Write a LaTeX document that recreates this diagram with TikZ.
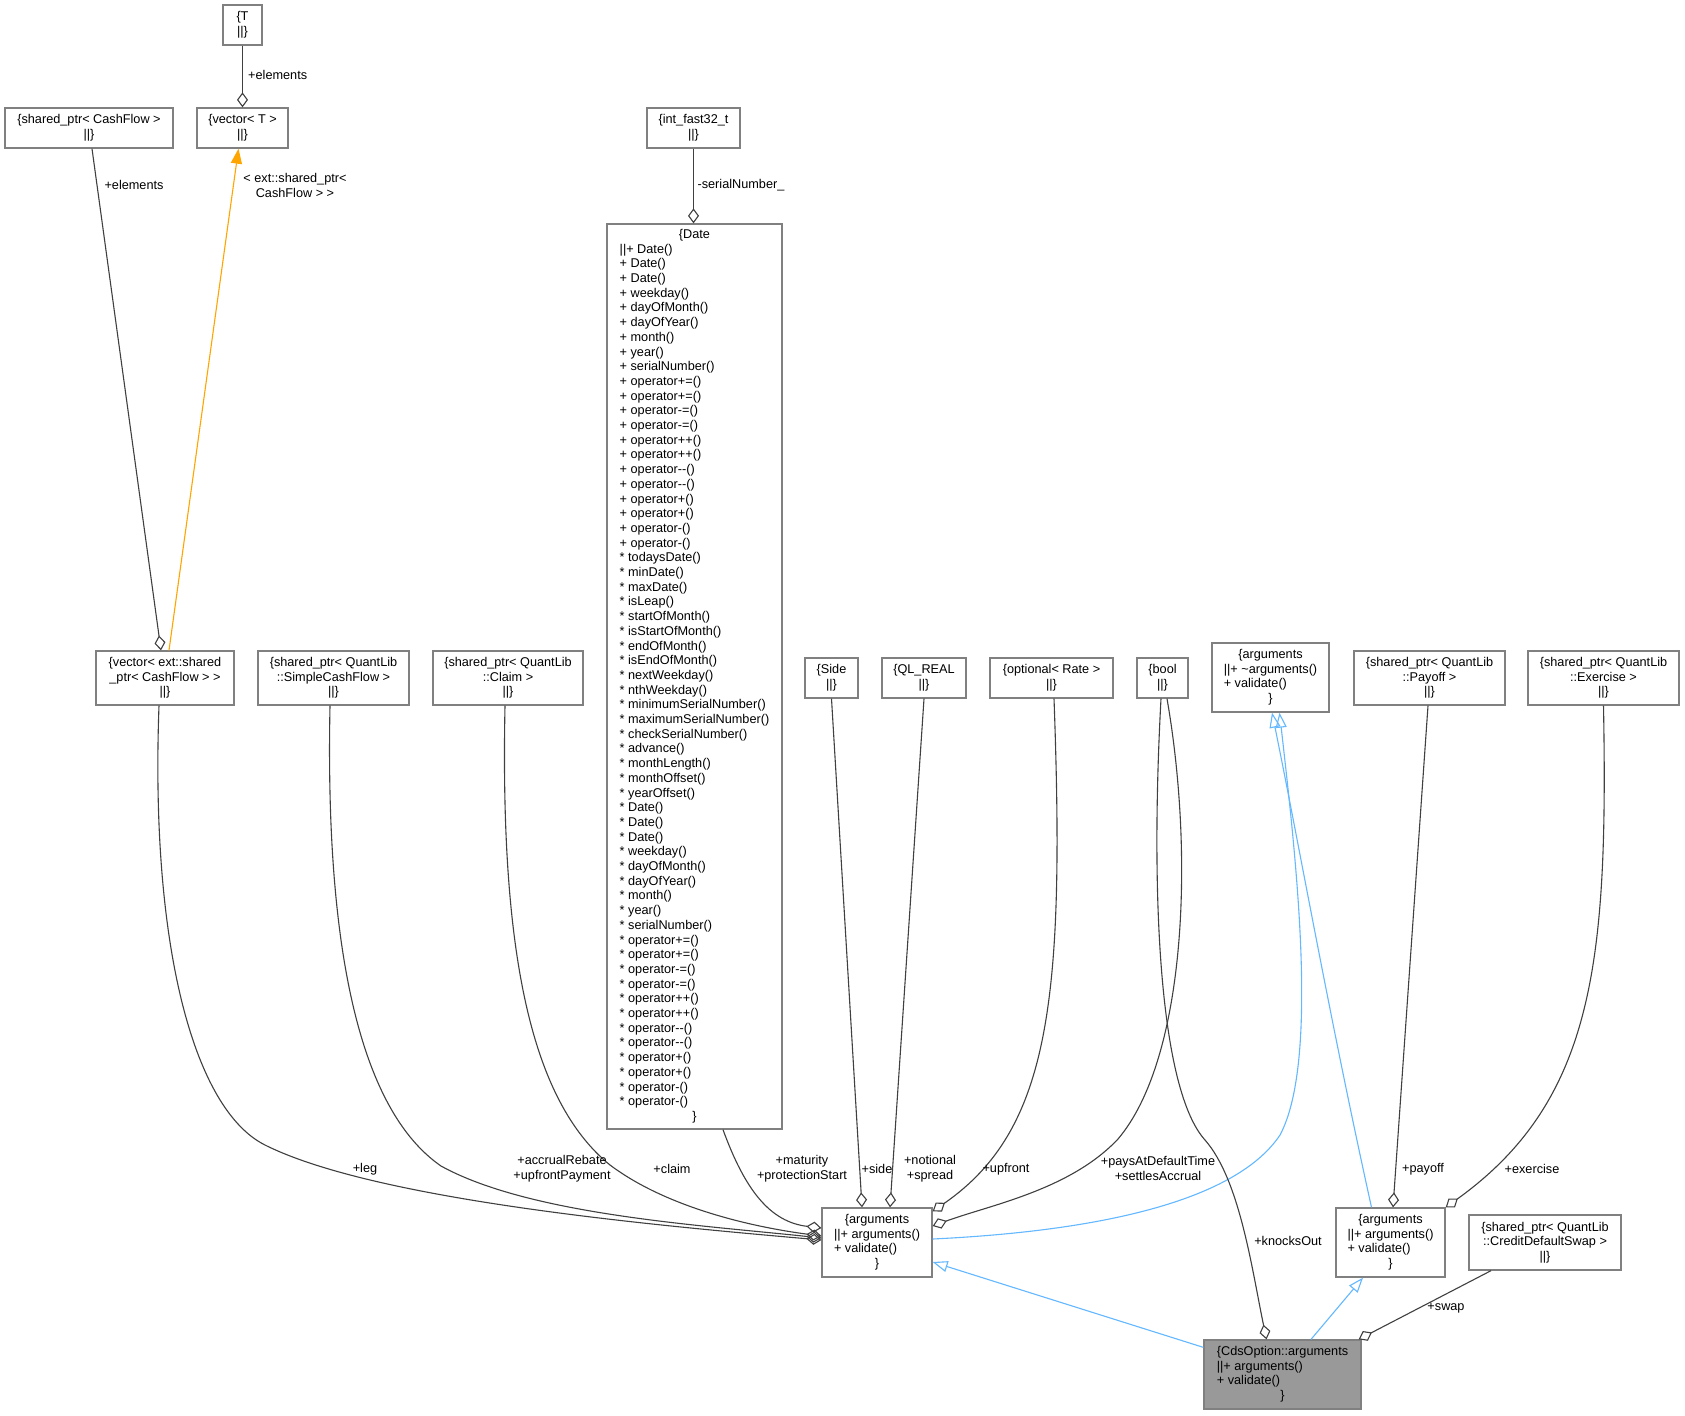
\documentclass[tikz,border=0pt]{standalone}
\usepackage{fontspec}
\setmainfont{Liberation Sans}[Ligatures=TeXOff]
\usetikzlibrary{arrows.meta,calc}
\definecolor{edgegray}{HTML}{404040}
\definecolor{boxgray}{HTML}{808080}
\definecolor{inhblue}{HTML}{63B8FF}
\definecolor{tmplorange}{HTML}{FFA500}
\definecolor{cdsfill}{HTML}{999999}
\newcommand\rectext[1]{\begin{tabular}{@{}l@{}}#1\end{tabular}}
\newcommand\ctrline[1]{\multicolumn{1}{@{}c@{}}{#1}}
\newcommand\st{{*}}
\begin{document}
\begin{tikzpicture}[x=1pt,y=-1pt,
  font=\fontsize{12.7}{14.7}\selectfont,
  box/.style={draw=boxgray, line width=1.3pt, fill=white, inner sep=0pt, align=center, text=black},
  mem/.style={draw=edgegray, line width=1.1pt, -{Diamond[open,length=15pt,width=11pt]}},
  inh/.style={draw=inhblue, line width=1.1pt, -{Triangle[open,length=15pt,width=11pt]}},
  tmpl/.style={draw=tmplorange, fill=none, line width=1.1pt, -{Triangle[length=15pt,width=11pt,fill=tmplorange]}},
  lbl/.style={inner sep=0pt, align=center, text=black}]
\fill[white] (0,0) rectangle (1685,1415);
\useasboundingbox (0,0) rectangle (1685,1415);

% boxes
\node[box, minimum width=39pt, minimum height=40pt] (T) at (242.5,25) {\{T\\||\}};
\node[box, minimum width=91pt, minimum height=40pt] (vecT) at (242.5,128) {\{vector< T >\\||\}};
\node[box, minimum width=168pt, minimum height=40pt] (spCF) at (89,128) {\{shared\_ptr< CashFlow >\\||\}};
\node[box, minimum width=93pt, minimum height=40pt] (intf) at (693.5,128) {\{int\_fast32\_t\\||\}};
\node[box, minimum width=138pt, minimum height=54pt] (vecSP) at (165,678) {\{vector< ext::shared\\\_ptr< CashFlow > >\\||\}};
\node[box, minimum width=151pt, minimum height=54pt] (spSCF) at (333.5,678) {\{shared\_ptr< QuantLib\\::SimpleCashFlow >\\||\}};
\node[box, minimum width=150pt, minimum height=54pt] (spClaim) at (508,678) {\{shared\_ptr< QuantLib\\::Claim >\\||\}};
\node[box, minimum width=175pt, minimum height=905pt] (Date) at (694.5,676.5) {\rectext{\ctrline{\{Date}\\
||+ Date()\\ + Date()\\ + Date()\\ + weekday()\\ + dayOfMonth()\\ + dayOfYear()\\ + month()\\ + year()\\ + serialNumber()\\
+ operator+=()\\ + operator+=()\\ + operator-=()\\ + operator-=()\\ + operator++()\\ + operator++()\\ + operator--()\\ + operator--()\\
+ operator+()\\ + operator+()\\ + operator-()\\ + operator-()\\
\st{} todaysDate()\\ \st{} minDate()\\ \st{} maxDate()\\ \st{} isLeap()\\ \st{} startOfMonth()\\ \st{} isStartOfMonth()\\ \st{} endOfMonth()\\ \st{} isEndOfMonth()\\
\st{} nextWeekday()\\ \st{} nthWeekday()\\ \st{} minimumSerialNumber()\\ \st{} maximumSerialNumber()\\ \st{} checkSerialNumber()\\ \st{} advance()\\
\st{} monthLength()\\ \st{} monthOffset()\\ \st{} yearOffset()\\ \st{} Date()\\ \st{} Date()\\ \st{} Date()\\ \st{} weekday()\\ \st{} dayOfMonth()\\ \st{} dayOfYear()\\
\st{} month()\\ \st{} year()\\ \st{} serialNumber()\\ \st{} operator+=()\\ \st{} operator+=()\\ \st{} operator-=()\\ \st{} operator-=()\\ \st{} operator++()\\ \st{} operator++()\\
\st{} operator--()\\ \st{} operator--()\\ \st{} operator+()\\ \st{} operator+()\\ \st{} operator-()\\ \st{} operator-()\\ \ctrline{\}}}};
\node[box, minimum width=53pt, minimum height=40pt] (Side) at (831.5,678) {\{Side\\||\}};
\node[box, minimum width=84pt, minimum height=40pt] (QL) at (924,678) {\{QL\_REAL\\||\}};
\node[box, minimum width=123pt, minimum height=40pt] (opt) at (1051.5,678) {\{optional< Rate >\\||\}};
\node[box, minimum width=51pt, minimum height=40pt] (bool) at (1162.5,678) {\{bool\\||\}};
\node[box, minimum width=117pt, minimum height=69pt] (base) at (1270.5,677.5) {\rectext{\ctrline{\{arguments}\\ ||+ \textasciitilde arguments()\\ + validate()\\ \ctrline{\}}}};
\node[box, minimum width=151pt, minimum height=54pt] (payoff) at (1429.5,678) {\{shared\_ptr< QuantLib\\::Payoff >\\||\}};
\node[box, minimum width=151pt, minimum height=54pt] (exer) at (1603.5,678) {\{shared\_ptr< QuantLib\\::Exercise >\\||\}};
\node[box, minimum width=110pt, minimum height=69pt] (mid) at (877,1242.5) {\rectext{\ctrline{\{arguments}\\ ||+ arguments()\\ + validate()\\ \ctrline{\}}}};
\node[box, minimum width=109pt, minimum height=69pt] (right) at (1390.5,1242.5) {\rectext{\ctrline{\{arguments}\\ ||+ arguments()\\ + validate()\\ \ctrline{\}}}};
\node[box, minimum width=152pt, minimum height=55pt] (cds) at (1545,1242.5) {\{shared\_ptr< QuantLib\\::CreditDefaultSwap >\\||\}};
\node[box, fill=cdsfill, minimum width=157pt, minimum height=69pt] (cdsopt) at (1282.5,1374.5) {\rectext{\{CdsOption::arguments\\ ||+ arguments()\\ + validate()\\ \ctrline{\}}}};

% top edges
\draw[mem] (T.south) -- (vecT.north);
\node[lbl, anchor=west] (lElemT) at (248,75) {+elements};
\draw[mem] ([xshift=3pt]spCF.south) -- ([xshift=-4pt]vecSP.north);
\node[lbl] (lElemSP) at (134,185) {+elements};
\draw[tmpl] ([xshift=4pt]vecSP.north) -- ([xshift=-4pt]vecT.south);
\node[lbl] (lTmpl) at (295,185.5) {< ext::shared\_ptr<\\CashFlow > >};
\draw[mem] (intf.south) -- (intf.south |- Date.north);
\node[lbl] (lSerial) at (741,185) {-serialNumber\_};

% edges into the middle arguments box
\draw[mem] ([xshift=-6pt]vecSP.south) .. controls (150,950) and (195,1110) .. (265,1145)
  .. controls (375,1200) and (650,1225) .. ([yshift=2.5pt]mid.west);
\draw[mem] ([xshift=-3.5pt]spSCF.south) .. controls (325,950) and (360,1110) .. (441,1166)
  .. controls (530,1215) and (700,1225) .. ([yshift=4.5pt]mid.west);
\draw[mem] ([xshift=-3pt]spClaim.south) .. controls (500,950) and (530,1100) .. (610,1165)
  .. controls (670,1210) and (760,1228) .. ([yshift=6.5pt]mid.west);
\draw[mem] ([xshift=28.5pt]Date.south) .. controls (745,1190) and (770,1222) .. ([yshift=14.5pt]mid.west);
\draw[mem] (Side.south) -- ([xshift=-15pt]mid.north);
\draw[mem] (QL.south) -- ([xshift=13pt]mid.north);
\draw[mem] ([xshift=2.5pt]opt.south) .. controls (1065,1000) and (1050,1130) .. ([yshift=-4pt]mid.north east);
\draw[mem] ([xshift=4.5pt]bool.south) .. controls (1195,860) and (1185,1060) .. (1118,1139)
  .. controls (1070,1190) and (990,1205) .. ([yshift=16.5pt]mid.east);

\node[lbl] (lLeg) at (365,1169) {+leg};
\node[lbl] (lAccr) at (562,1168.5) {+accrualRebate\\+upfrontPayment};
\node[lbl] (lClaim) at (672,1169) {+claim};
\node[lbl] (lMat) at (802,1168.5) {+maturity\\+protectionStart};
\node[lbl] (lSide) at (877,1169) {+side};
\node[lbl] (lNot) at (930,1168.5) {+notional\\+spread};
\node[lbl] (lUp) at (1006,1169) {+upfront};
\node[lbl] (lPays) at (1158,1168.5) {+paysAtDefaultTime\\+settlesAccrual};

% inheritance
\draw[inh] ([yshift=3.5pt]mid.east) .. controls (1120,1230) and (1240,1195) .. (1280,1135)
  .. controls (1320,1060) and (1295,850) .. ([xshift=9pt]base.south);
\draw[inh] ([xshift=-19pt]right.north) .. controls (1330,1020) and (1300,850) .. ([xshift=1.5pt]base.south);
\draw[inh] ([yshift=-8pt]cdsopt.north west) -- ([yshift=-19.5pt]mid.east);
\draw[inh] ([xshift=28.5pt]cdsopt.north) -- ([xshift=-27.5pt]right.south);

% right side members
\draw[mem] ([xshift=-1.5pt]bool.south) .. controls (1150,900) and (1160,1090) .. (1205,1140)
  .. controls (1240,1180) and (1252,1270) .. ([xshift=-16pt]cdsopt.north);
\node[lbl] (lKO) at (1288,1241) {+knocksOut};
\draw[mem] ([xshift=-1.5pt]payoff.south) -- ([xshift=2.5pt]right.north);
\node[lbl] (lPay) at (1423,1169) {+payoff};
\draw[mem] (exer.south) .. controls (1608,960) and (1595,1100) .. (right.north east);
\node[lbl] (lEx) at (1532,1169) {+exercise};
\draw[mem] ([xshift=-54pt]cds.south) -- ([xshift=-3pt]cdsopt.north east);
\node[lbl] (lSwap) at (1446,1308) {+swap};
\end{tikzpicture}
\end{document}
